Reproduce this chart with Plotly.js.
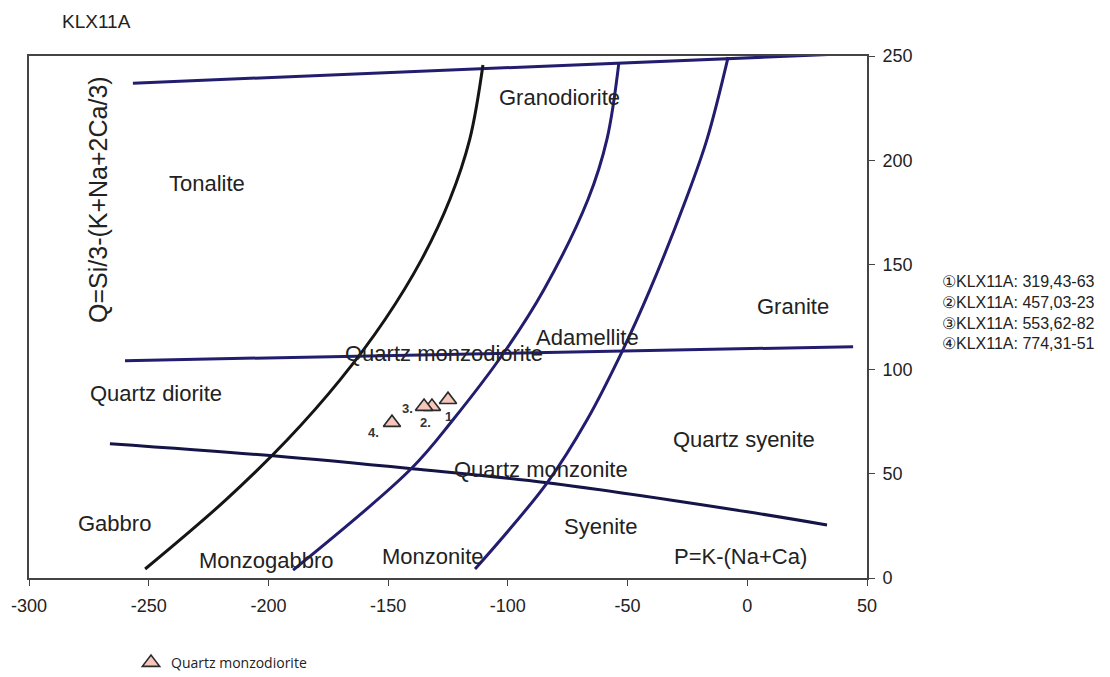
<!DOCTYPE html>
<html>
<head>
<meta charset="utf-8">
<script src="https://cdn.plot.ly/plotly-3.0.1.min.js"></script>
<style>html,body{margin:0;padding:0;background:#fff;}#chart{width:1110px;height:677px;}</style>
</head>
<body>
<div id="chart"></div>
<script>
// Boundary curves (P, Q)
const curveBlackP = [-251.5, -217.8, -192.1, -170.0, -151.3, -136.0, -124.2, -115.9, -110.4];
const curveBlackQ = [4.3, 37.4, 66.2, 95.0, 123.8, 152.6, 181.4, 210.2, 245.7];
const curveMidP = [-189.7, -140.4, -122.9, -101.6, -84.9, -66.5, -58.6, -53.6];
const curveMidQ = [3.8, 52.3, 75.8, 108.0, 138.2, 181.4, 210.2, 247.1];
const curveRightP = [-113.7, -83.6, -66.9, -51.9, -40.6, -25.6, -16.8, -8.0];
const curveRightQ = [4.3, 45.6, 75.8, 109.4, 138.2, 181.4, 210.2, 249.5];
const topLineP = [-256.6, 48.4];
const topLineQ = [237.0, 251.4];
const midLineP = [-259.9, 44.2];
const midLineQ = [104.1, 110.8];
const lowLineP = [-266.2, -198.1, -140.0, -83.6, 0, 33.3];
const lowLineQ = [64.3, 58.5, 52.3, 45.6, 31.7, 25.4];

// Samples
const sampleP = [-125.0, -131.7, -135.0, -148.4];
const sampleQ = [85.4, 82.1, 82.1, 74.4];
const sampleTags = ["1", "2.", "3.", "4."];
const tagP = [-125.0, -134.6, -142.1, -156.3];
const tagQ = [77.3, 74.4, 81.1, 69.6];
const sampleNotes = ["①KLX11A: 319,43-63", "②KLX11A: 457,03-23", "③KLX11A: 553,62-82", "④KLX11A: 774,31-51"];

// Field names
const fieldNames = ["Granodiorite", "Tonalite", "Granite", "Adamellite", "Quartz diorite", "Quartz monzodiorite",
  "Quartz syenite", "Quartz monzonite", "Gabbro", "Syenite", "Monzogabbro", "Monzonite", "P=K-(Na+Ca)"];
const fieldP = [-78.6, -225.6, 19.1, -66.9, -247.0, -126.6, -1.3, -86.1, -264.5, -61.1, -200.6, -131.2, -3.0];
const fieldQ = [230.3, 189.1, 130.0, 115.2, 88.3, 107.5, 66.2, 51.8, 25.9, 24.5, 8.6, 10.1, 10.1];

const xTicks = [-300, -250, -200, -150, -100, -50, 0, 50];
const xTickLabels = ["-300", "-250", "-200", "-150", "-100", "-50", "0", "50"];
const yTicks = [0, 50, 100, 150, 200, 250];
const yTickLabels = ["0", "50", "100", "150", "200", "250"];

const NAVY = '#221d6e';
const FONT = 'Liberation Sans, Arial, sans-serif';

function line(x, y, color) {
  return {x: x, y: y, mode: 'lines', type: 'scatter', showlegend: false, hoverinfo: 'skip',
    line: {color: color, width: 3, shape: 'spline', smoothing: 1}};
}

const traces = [
  line(topLineP, topLineQ, NAVY),
  line(midLineP, midLineQ, NAVY),
  line(lowLineP, lowLineQ, '#141446'),
  line(curveBlackP, curveBlackQ, '#151515'),
  line(curveMidP, curveMidQ, NAVY),
  line(curveRightP, curveRightQ, NAVY),
  {x: sampleP, y: sampleQ, mode: 'markers', type: 'scatter', name: 'Quartz monzodiorite', showlegend: true,
    marker: {symbol: 'triangle-up', size: 15, color: '#f6c6bd', line: {color: '#2a2a2a', width: 1.6}}}
];

const L = 29, R = 243, T = 56, B = 99, W = 1110, H = 677;
const pw = W - L - R, ph = H - T - B;

const annotations = [];
fieldNames.forEach((t, i) => annotations.push({x: fieldP[i], y: fieldQ[i], xref: 'x', yref: 'y', text: t,
  showarrow: false, font: {family: FONT, size: 22, color: '#222'}}));
sampleTags.forEach((t, i) => annotations.push({x: tagP[i], y: tagQ[i], xref: 'x', yref: 'y', text: '<b>' + t + '</b>',
  showarrow: false, font: {family: FONT, size: 13, color: '#333'}}));
annotations.push({x: -271.2, y: 181.5, xref: 'x', yref: 'y', text: 'Q=Si/3-(K+Na+2Ca/3)', textangle: -90,
  showarrow: false, font: {family: FONT, size: 25, color: '#222'}});
annotations.push({x: (940 - L) / pw, y: 1 - (312 - T) / ph, xref: 'paper', yref: 'paper',
  text: sampleNotes.join('<br>'), align: 'left', showarrow: false, xanchor: 'left', yanchor: 'middle',
  font: {family: FONT, size: 16, color: '#222'}});

const layout = {
  width: W, height: H,
  margin: {l: L, r: R, t: T, b: B, pad: 0, autoexpand: false},
  paper_bgcolor: '#fff', plot_bgcolor: '#fff',
  font: {family: FONT, color: '#222'},
  title: {text: 'KLX11A', x: 62 / W, xanchor: 'left', y: 1 - 21 / H, yanchor: 'middle', xref: 'container', yref: 'container',
    font: {family: FONT, size: 19, color: '#222'}},
  xaxis: {range: [-300, 50], tickvals: xTicks, ticktext: xTickLabels, ticks: 'outside', ticklen: 6, tickcolor: '#444', tickwidth: 1,
    showline: true, linecolor: '#444', linewidth: 2, mirror: true, showgrid: false, zeroline: false, ticklabelstandoff: 4,
    tickfont: {family: FONT, size: 18, color: '#222'}},
  yaxis: {range: [0, 250], tickvals: yTicks, ticktext: yTickLabels, side: 'right', ticks: 'outside', ticklen: 6, tickcolor: '#444', tickwidth: 1,
    showline: true, linecolor: '#444', linewidth: 2, mirror: true, showgrid: false, zeroline: false, ticklabelstandoff: 4,
    tickfont: {family: FONT, size: 18, color: '#222'}},
  showlegend: true,
  legend: {x: (131 - L) / pw, xanchor: 'left', y: -(663 - (H - B)) / ph, yanchor: 'middle', bgcolor: 'rgba(0,0,0,0)',
    font: {family: 'Open Sans, sans-serif', size: 14, color: '#222'}},
  annotations: annotations
};

Plotly.newPlot('chart', traces, layout, {displayModeBar: false, staticPlot: true});
</script>
</body>
</html>
